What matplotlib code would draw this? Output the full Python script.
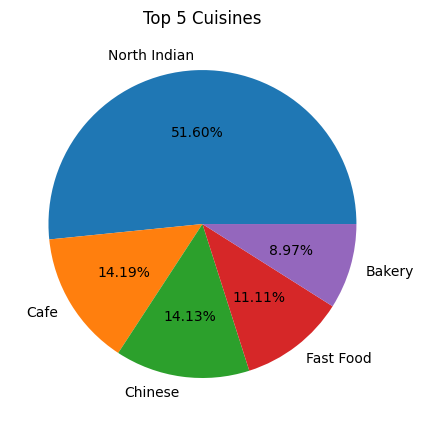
import matplotlib
matplotlib.use("Agg")
import matplotlib.pyplot as plt

cuisines = ["North Indian", "Cafe", "Chinese", "Fast Food", "Bakery"]
shares = [51.60, 14.19, 14.13, 11.11, 8.97]

fig = plt.figure(figsize=(4.23, 4.27), dpi=100)
ax = fig.add_axes([0.0236, 0.0222, 0.910, 0.9016])
ax.pie(shares, labels=cuisines, autopct="%1.2f%%")
ax.set_title("Top 5 Cuisines")
fig.savefig("out.png", dpi=100)
